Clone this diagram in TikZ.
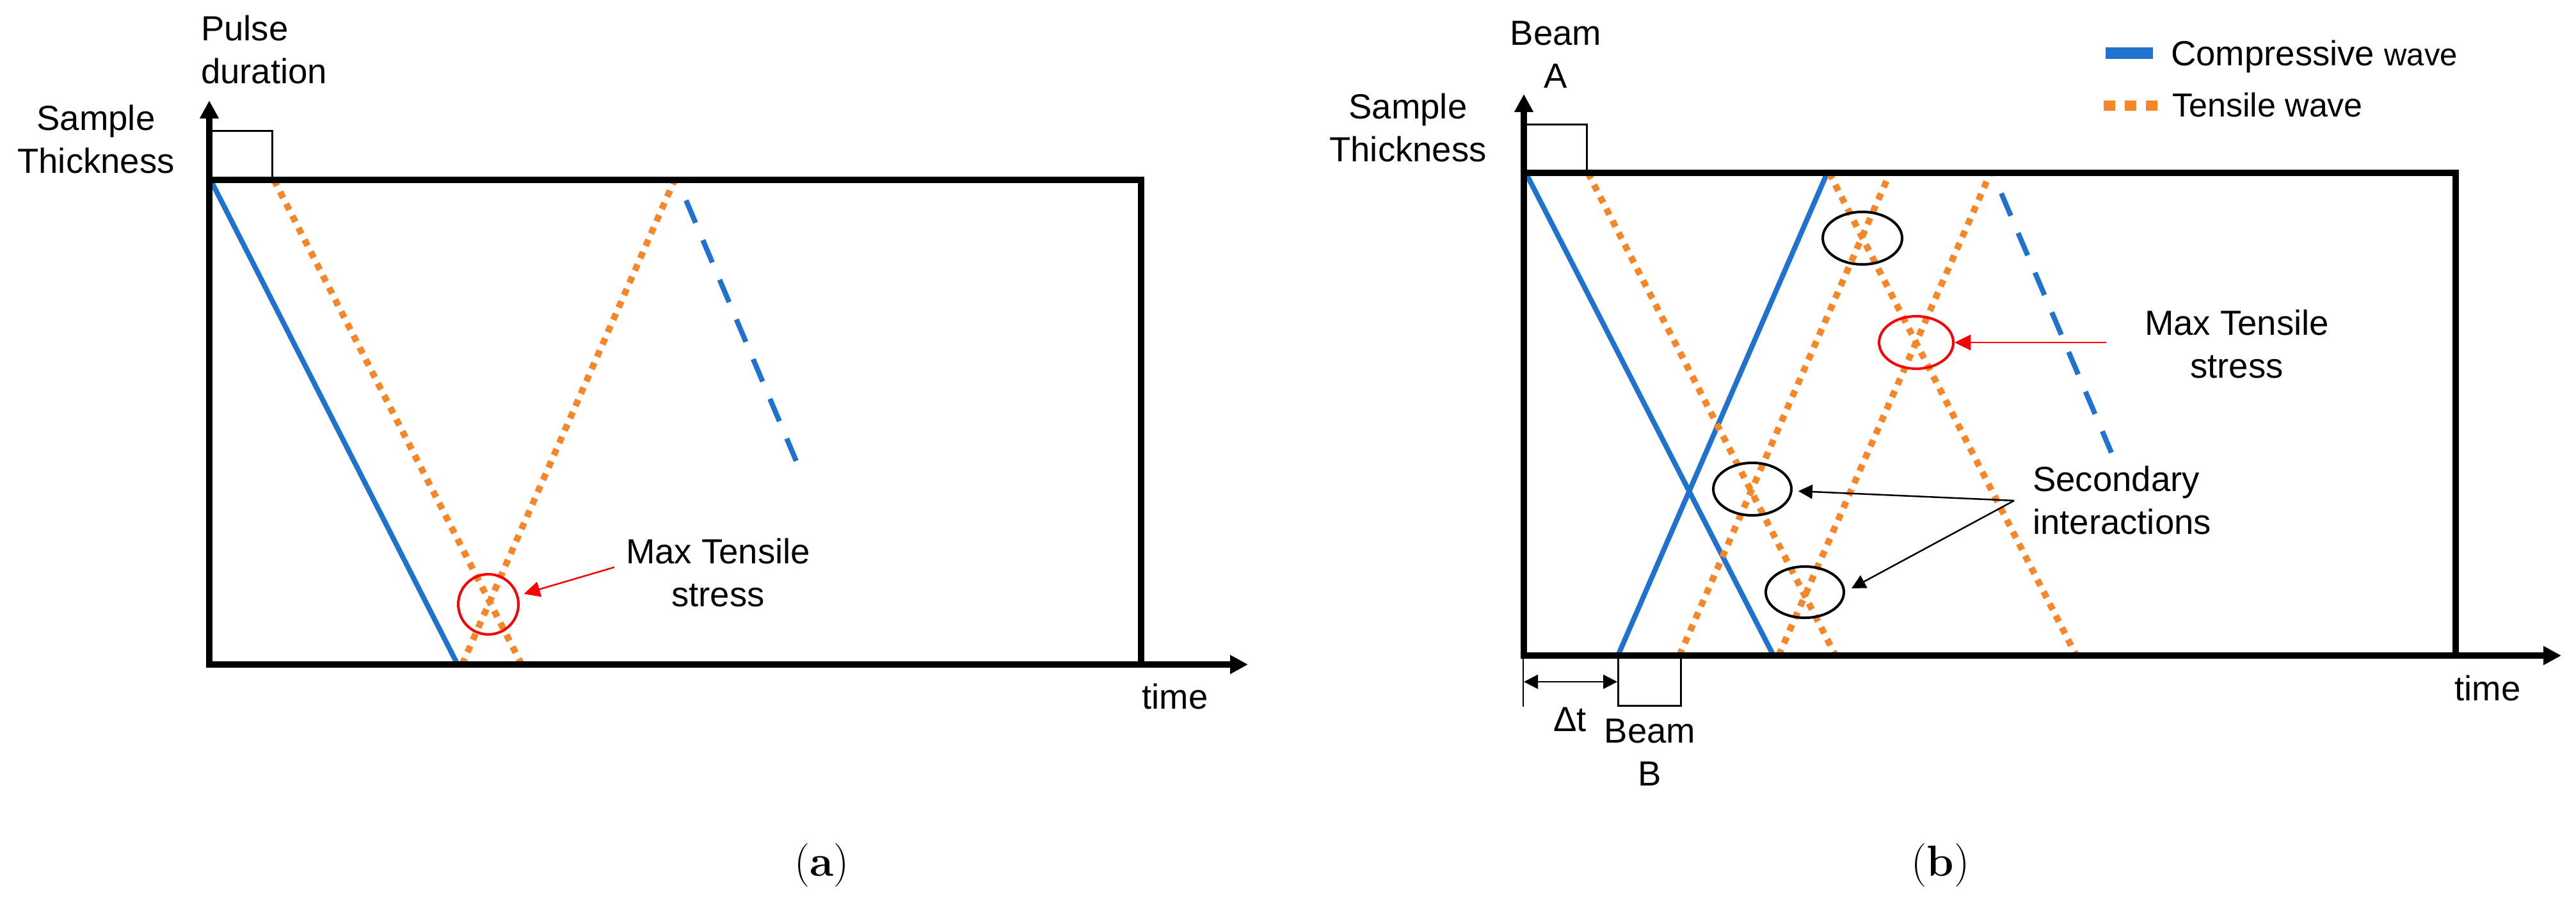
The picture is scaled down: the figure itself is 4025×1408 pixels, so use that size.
\documentclass[tikz,border=0pt]{standalone}
\usepackage{fontspec}
\setsansfont{Liberation Sans}
\usetikzlibrary{arrows.meta,shapes.geometric}
\definecolor{cblue}{RGB}{31,114,206}
\definecolor{corange}{RGB}{247,134,40}
\begin{document}
\begin{tikzpicture}[x=1pt,y=-1pt,
  lbl/.style={font=\sffamily\fontsize{54.5}{67}\selectfont, inner sep=0pt},
  capt/.style={font=\fontsize{68}{80}\selectfont, inner sep=0pt},
  frame/.style={line width=10pt, black},
  axis/.style={line width=10pt, -{Triangle[length=28pt,width=28pt]}},
  comp/.style={cblue, line width=8pt},
  compdash/.style={cblue, line width=8pt, dash pattern=on 38pt off 29.3pt},
  tens/.style={corange, line width=10pt, dash pattern=on 10.5pt off 10.5pt},
  pulsebox/.style={line width=3pt},
  ring/.style={draw, ellipse, line width=4pt, inner sep=0pt},
  redarr/.style={red, line width=2.5pt, -{Triangle[length=25pt,width=24pt]}},
  blkarr/.style={black, line width=2.5pt, -{Triangle[length=22pt,width=22pt]}},
]
\useasboundingbox (0,0) rectangle (4025,1408);

% ---------------- Panel (a) ----------------
\coordinate (aO) at (327,1038);
\coordinate (aY) at (327,157);
\coordinate (aX) at (1950,1038);
% waves
\draw[comp] (329,281) -- (715,1038);
\draw[tens] (428,281) -- (815,1038);
\draw[tens] (722,1038) -- (1054,281);
\draw[compdash] (1072,313) -- (1244,720);
% frame and axes
\draw[frame] (327,281) rectangle (1783,1038);
\draw[axis] (aO) -- (aY);
\draw[axis] (aO) -- (aX);
\draw[pulsebox] (327,281) |- (425,204) -- (425,281);
% max tensile
\node[ring, red, minimum width=94pt, minimum height=94pt] (ra) at (763,944) {};
\node[lbl, anchor=north, align=center] (mta) at (1122,840.6) {Max Tensile\\stress};
\coordinate (mtaS) at (960,886);
\draw[redarr, shorten >=9pt] (mtaS) -- (ra);
% labels
\node[lbl, anchor=north west, align=left] (pulse) at (314,23.6) {Pulse\\duration};
\node[lbl, anchor=north, align=center] (sta) at (150,163.6) {Sample\\Thickness};
\node[lbl, anchor=base] (ta) at (1836,1107) {time};
\node[capt, anchor=base] (capa) at (1284,1368) {(\textbf{a})};

% ---------------- Panel (b) ----------------
\coordinate (bO) at (2381,1024);
\coordinate (bY) at (2381,147);
\coordinate (bX) at (4002,1024);
% waves
\draw[comp] (2384,270) -- (2771,1024);
\draw[comp] (2528,1024) -- (2855,270);
\draw[tens] (2481,270) -- (2868,1024);
\draw[tens] (2624,1024) -- (2953,270);
\draw[tens] (2779,1024) -- (3110,270);
\draw[tens] (2858,270) -- (3244,1024);
\draw[compdash] (3127,302) -- (3299,707);
% frame and axes
\draw[frame] (2381,270) rectangle (3837,1024);
\draw[axis] (bO) -- (bY);
\draw[axis] (bO) -- (bX);
\draw[pulsebox] (2381,270) |- (2479,194) -- (2479,270);
\draw[pulsebox] (2528,1024) |- (2626,1102) -- (2626,1024);
% interaction rings
\node[ring, minimum width=124pt, minimum height=82pt] (e1) at (2910,372) {};
\node[ring, minimum width=122pt, minimum height=82pt] (e2) at (2738,764) {};
\node[ring, minimum width=122pt, minimum height=80pt] (e3) at (2820,925) {};
\node[ring, red, minimum width=116pt, minimum height=82pt] (rb) at (2994,535) {};
% max tensile label
\node[lbl, anchor=north, align=center] (mtb) at (3495,483.6) {Max Tensile\\stress};
\coordinate (mtbS) at (3291,535);
\draw[redarr] (mtbS) -- (rb);
% secondary interactions
\node[lbl, anchor=north west, align=left] (sec) at (3176,727.6) {Secondary\\interactions};
\coordinate (secS) at (3147,782);
\draw[blkarr, shorten >=9pt] (secS) -- (e2);
\draw[blkarr] (secS) -- ([shift={(10,-6)}]e3.east);
% delta t
\coordinate (tickT) at (2380,1024);
\coordinate (tickB) at (2380,1104);
\draw[line width=2pt] (tickT) -- (tickB);
\coordinate (dtL) at (2381,1065);
\coordinate (dtR) at (2527,1065);
\draw[line width=2.5pt, {Triangle[length=22pt,width=22pt]}-{Triangle[length=22pt,width=22pt]}] (dtL) -- (dtR);
\node[lbl, anchor=base] (dt) at (2453,1142) {Δt};
% labels
\node[lbl, anchor=north, align=center] (beamb) at (2578,1122.6) {Beam\\B};
\node[lbl, anchor=north, align=center] (beama) at (2431,32.6) {Beam\\A};
\node[lbl, anchor=north, align=center] (stb) at (2200,145.6) {Sample\\Thickness};
\node[lbl, anchor=base] (tb) at (3887,1094) {time};
\node[capt, anchor=base] (capb) at (3032,1368) {(\textbf{b})};
% legend
\coordinate (lc1) at (3290,83);
\coordinate (lc2) at (3364,83);
\draw[cblue, line width=18pt] (lc1) -- (lc2);
\coordinate (lt1) at (3287,165);
\coordinate (lt2) at (3371,165);
\draw[corange, line width=16pt, dash pattern=on 18pt off 15pt] (lt1) -- (lt2);
\node[anchor=base west, inner sep=0pt, font=\sffamily\fontsize{54.5}{60}\selectfont] (lgc) at (3392,102) {Compressive {\fontsize{49}{55}\selectfont wave}};
\node[anchor=base west, inner sep=0pt, font=\sffamily\fontsize{52}{60}\selectfont] (lgt) at (3394,182) {Tensile wave};
\end{tikzpicture}
\end{document}
